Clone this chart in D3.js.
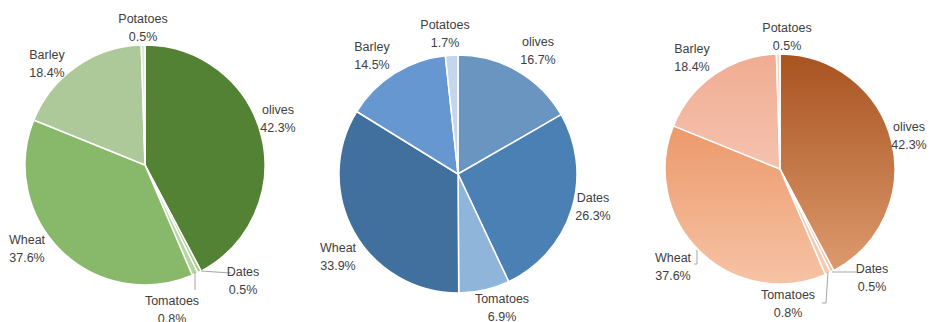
<!DOCTYPE html>
<html>
<head>
<meta charset="utf-8">
<script src="https://cdn.jsdelivr.net/npm/d3@7"></script>
<style>
  html, body { margin: 0; padding: 0; background: #ffffff; }
  svg { display: block; }
  text { font-family: "Liberation Sans", Arial, sans-serif; font-size: 12.5px; fill: #404040; }
</style>
</head>
<body>
<svg id="chart" width="930" height="322"></svg>
<script>
// Crop categories, clockwise from 12 o'clock
const categories = ["olives", "Dates", "Tomatoes", "Wheat", "Barley", "Potatoes"];

// Share of each crop (%), one array per pie
const valuesLeft   = [42.3, 0.5, 0.8, 37.6, 18.4, 0.5];
const valuesMiddle = [16.7, 26.3, 6.9, 33.9, 14.5, 1.7];
const valuesRight  = [42.3, 0.5, 0.8, 37.6, 18.4, 0.5];

// Slice fills
const greens = ["#548235", "#a9cf8f", "#b5d6a0", "#88b96b", "#adc99a", "#dbe9d2"];
const blues  = ["#6a95c0", "#4b80b5", "#8fb5db", "#41709e", "#6697d0", "#c6d6ea"];
// Orange slices use a vertical gradient: [top, bottom]
const oranges = [
  ["#a85320", "#e09e72"],
  ["#f0b090", "#f6c8ae"],
  ["#f2b595", "#f7ccb3"],
  ["#e8864f", "#f6c3a6"],
  ["#f0ac92", "#fad9cc"],
  ["#f6d2c2", "#fbe6dc"]
];

// Pie placement
const pies = [
  { values: valuesLeft,   cx: 145, cy: 165, r: 120, fill: "solid", colors: greens },
  { values: valuesMiddle, cx: 458, cy: 174, r: 119, fill: "solid", colors: blues },
  { values: valuesRight,  cx: 780, cy: 169, r: 115, fill: "grad",  colors: oranges }
];

// Label centres relative to each pie centre (first line), by category
const labelOffsets = [
  [[133, -55], [98, 107], [27, 136], [-118, 75], [-98, -110], [-2, -146]],
  [[80, -132], [135, 24], [44, 125], [-120, 74], [-86, -127], [-13, -149]],
  [[129, -42], [92, 100], [8, 126], [-107, 89], [-88, -120], [7, -141]]
];

// Leader lines (relative to pie centre) for labels set away from their slice
const leaders = [
  [null, [[56, 106], [86, 108]], [[50, 107], [50, 125]], null, null, null],
  [null, null, null, null, null, null],
  [null, [[52, 103], [76, 103]], [[48, 103], [46, 134], [42, 134]], [[-83, 81], [-83, 95], [-86, 95]], null, null]
];

const svg = d3.select("#chart");
const defs = svg.append("defs");

const pieGen = d3.pie().sort(null).value(d => d);

pies.forEach((p, pi) => {
  const g = svg.append("g").attr("transform", `translate(${p.cx},${p.cy})`);
  const arc = d3.arc().innerRadius(0).outerRadius(p.r);
  const arcs = pieGen(p.values);

  if (p.fill === "grad") {
    p.colors.forEach((c, i) => {
      const lg = defs.append("linearGradient")
        .attr("id", `grad-${pi}-${i}`)
        .attr("gradientUnits", "userSpaceOnUse")
        .attr("x1", 0).attr("y1", -p.r)
        .attr("x2", 0).attr("y2", p.r);
      lg.append("stop").attr("offset", "0%").attr("stop-color", c[0]);
      lg.append("stop").attr("offset", "100%").attr("stop-color", c[1]);
    });
  }

  g.selectAll("path.slice")
    .data(arcs)
    .join("path")
    .attr("class", "slice")
    .attr("d", arc)
    .attr("fill", (d, i) => p.fill === "grad" ? `url(#grad-${pi}-${i})` : p.colors[i])
    .attr("stroke", "#ffffff")
    .attr("stroke-width", 1.5)
    .attr("stroke-linejoin", "round");

  // leader lines
  leaders[pi].forEach(pts => {
    if (!pts) return;
    g.append("polyline")
      .attr("points", pts.map(q => q.join(",")).join(" "))
      .attr("fill", "none")
      .attr("stroke", "#a6a6a6")
      .attr("stroke-width", 1);
  });

  // labels
  arcs.forEach((d, i) => {
    const [ox, oy] = labelOffsets[pi][i];
    const t = g.append("text")
      .attr("text-anchor", "middle")
      .attr("x", ox).attr("y", oy + 4);
    t.append("tspan").attr("x", ox).text(categories[i]);
    t.append("tspan").attr("x", ox).attr("dy", 18).text(d.data.toFixed(1) + "%");
  });
});
</script>
</body>
</html>
